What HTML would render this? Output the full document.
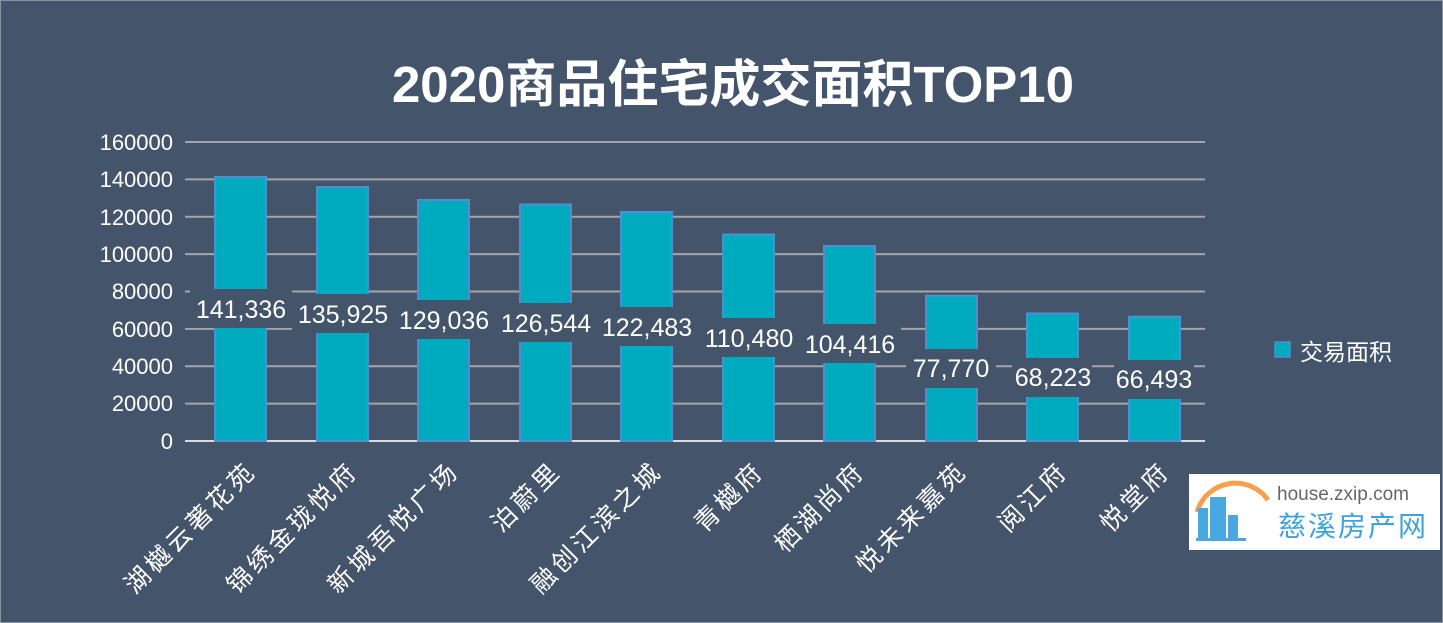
<!DOCTYPE html>
<html><head><meta charset="utf-8"><style>
body{margin:0;background:#44546a;}
svg{display:block;font-family:"Liberation Sans","Noto Sans CJK SC",sans-serif;}
</style></head><body>
<svg width="1443" height="623" viewBox="0 0 1443 623">
<rect x="0.5" y="0.5" width="1442" height="622" fill="#44546a" stroke="#8a93a0"/>
<text x="733" y="102" font-size="51" font-weight="bold" fill="#fff" text-anchor="middle">2020商品住宅成交面积TOP10</text>
<g stroke="#a6a6a6" stroke-width="2">
<line x1="185" x2="1205" y1="142" y2="142"/>
<line x1="185" x2="1205" y1="179.4" y2="179.4"/>
<line x1="185" x2="1205" y1="216.8" y2="216.8"/>
<line x1="185" x2="1205" y1="254.1" y2="254.1"/>
<line x1="185" x2="1205" y1="291.5" y2="291.5"/>
<line x1="185" x2="1205" y1="328.9" y2="328.9"/>
<line x1="185" x2="1205" y1="366.3" y2="366.3"/>
<line x1="185" x2="1205" y1="403.6" y2="403.6"/>
</g>
<line x1="185" x2="1205" y1="441" y2="441" stroke="#d9d9d9" stroke-width="2"/>
<g fill="#fff" font-size="22" text-anchor="end">
<text x="173" y="150">160000</text><text x="173" y="187">140000</text><text x="173" y="225">120000</text>
<text x="173" y="262">100000</text><text x="173" y="299">80000</text><text x="173" y="337">60000</text>
<text x="173" y="374">40000</text><text x="173" y="411">20000</text><text x="173" y="449">0</text>
</g>
<g fill="#00abbf" stroke="#4f8fd0" stroke-width="2">
<rect x="215" y="177" width="51" height="264"/>
<rect x="317" y="187" width="51" height="254"/>
<rect x="418" y="200" width="51" height="241"/>
<rect x="520" y="204.5" width="51" height="236.5"/>
<rect x="621" y="212" width="51" height="229"/>
<rect x="723" y="234.5" width="51" height="206.5"/>
<rect x="824" y="246" width="51" height="195"/>
<rect x="926" y="295.7" width="51" height="145.3"/>
<rect x="1027" y="313.5" width="51" height="127.5"/>
<rect x="1129" y="316.7" width="51" height="124.3"/>
</g>
<g fill="#44546a">
<rect x="190" y="289" width="102" height="39"/>
<rect x="292" y="294" width="102" height="39"/>
<rect x="393" y="300" width="102" height="39"/>
<rect x="495" y="303" width="102" height="39"/>
<rect x="596" y="307" width="102" height="39"/>
<rect x="698" y="318" width="102" height="39"/>
<rect x="799" y="324" width="102" height="39"/>
<rect x="906" y="349" width="90" height="39"/>
<rect x="1012" y="358" width="80" height="39"/>
<rect x="1114" y="360" width="80" height="39"/>
</g>
<g fill="#fff" font-size="25" text-anchor="middle">
<text x="241" y="318">141,336</text>
<text x="343" y="323">135,925</text>
<text x="444" y="329">129,036</text>
<text x="546" y="332">126,544</text>
<text x="647" y="336">122,483</text>
<text x="749" y="347">110,480</text>
<text x="850" y="353">104,416</text>
<text x="951" y="377">77,770</text>
<text x="1053" y="386">68,223</text>
<text x="1154" y="388">66,493</text>
</g>
<g fill="#fff" font-size="25" text-anchor="end" letter-spacing="4">
<text transform="translate(258,472) rotate(-45)">湖樾云著花苑</text>
<text transform="translate(360,472) rotate(-45)">锦绣金珑悦府</text>
<text transform="translate(461,472) rotate(-45)">新城吾悦广场</text>
<text transform="translate(563,472) rotate(-45)">泊蔚里</text>
<text transform="translate(664,472) rotate(-45)">融创江滨之城</text>
<text transform="translate(766,472) rotate(-45)">青樾府</text>
<text transform="translate(867,472) rotate(-45)">栖湖尚府</text>
<text transform="translate(969,472) rotate(-45)">悦未来嘉苑</text>
<text transform="translate(1070,472) rotate(-45)">阅江府</text>
<text transform="translate(1172,472) rotate(-45)">悦堂府</text>
</g>
<rect x="1275" y="342" width="15" height="15" fill="#00abbf" stroke="#4f8fd0" stroke-width="1.5"/>
<text x="1300" y="360" fill="#fff" font-size="23">交易面积</text>
<rect x="1189" y="474" width="251" height="76" fill="#fff"/>
<path d="M1197 512 A40 40 0 0 1 1268 500" fill="none" stroke="#f6a04d" stroke-width="5"/>
<g fill="#4aa8e0"><rect x="1198" y="508" width="10" height="32"/><rect x="1210" y="497" width="16" height="43"/><rect x="1228" y="515" width="10" height="25"/><rect x="1196" y="538" width="50" height="3"/></g>
<text x="1277" y="500" font-size="19" fill="#666">house.zxip.com</text>
<text x="1278" y="536" font-size="28" fill="#3ea3dc" letter-spacing="2">慈溪房产网</text>
</svg>
</body></html>
